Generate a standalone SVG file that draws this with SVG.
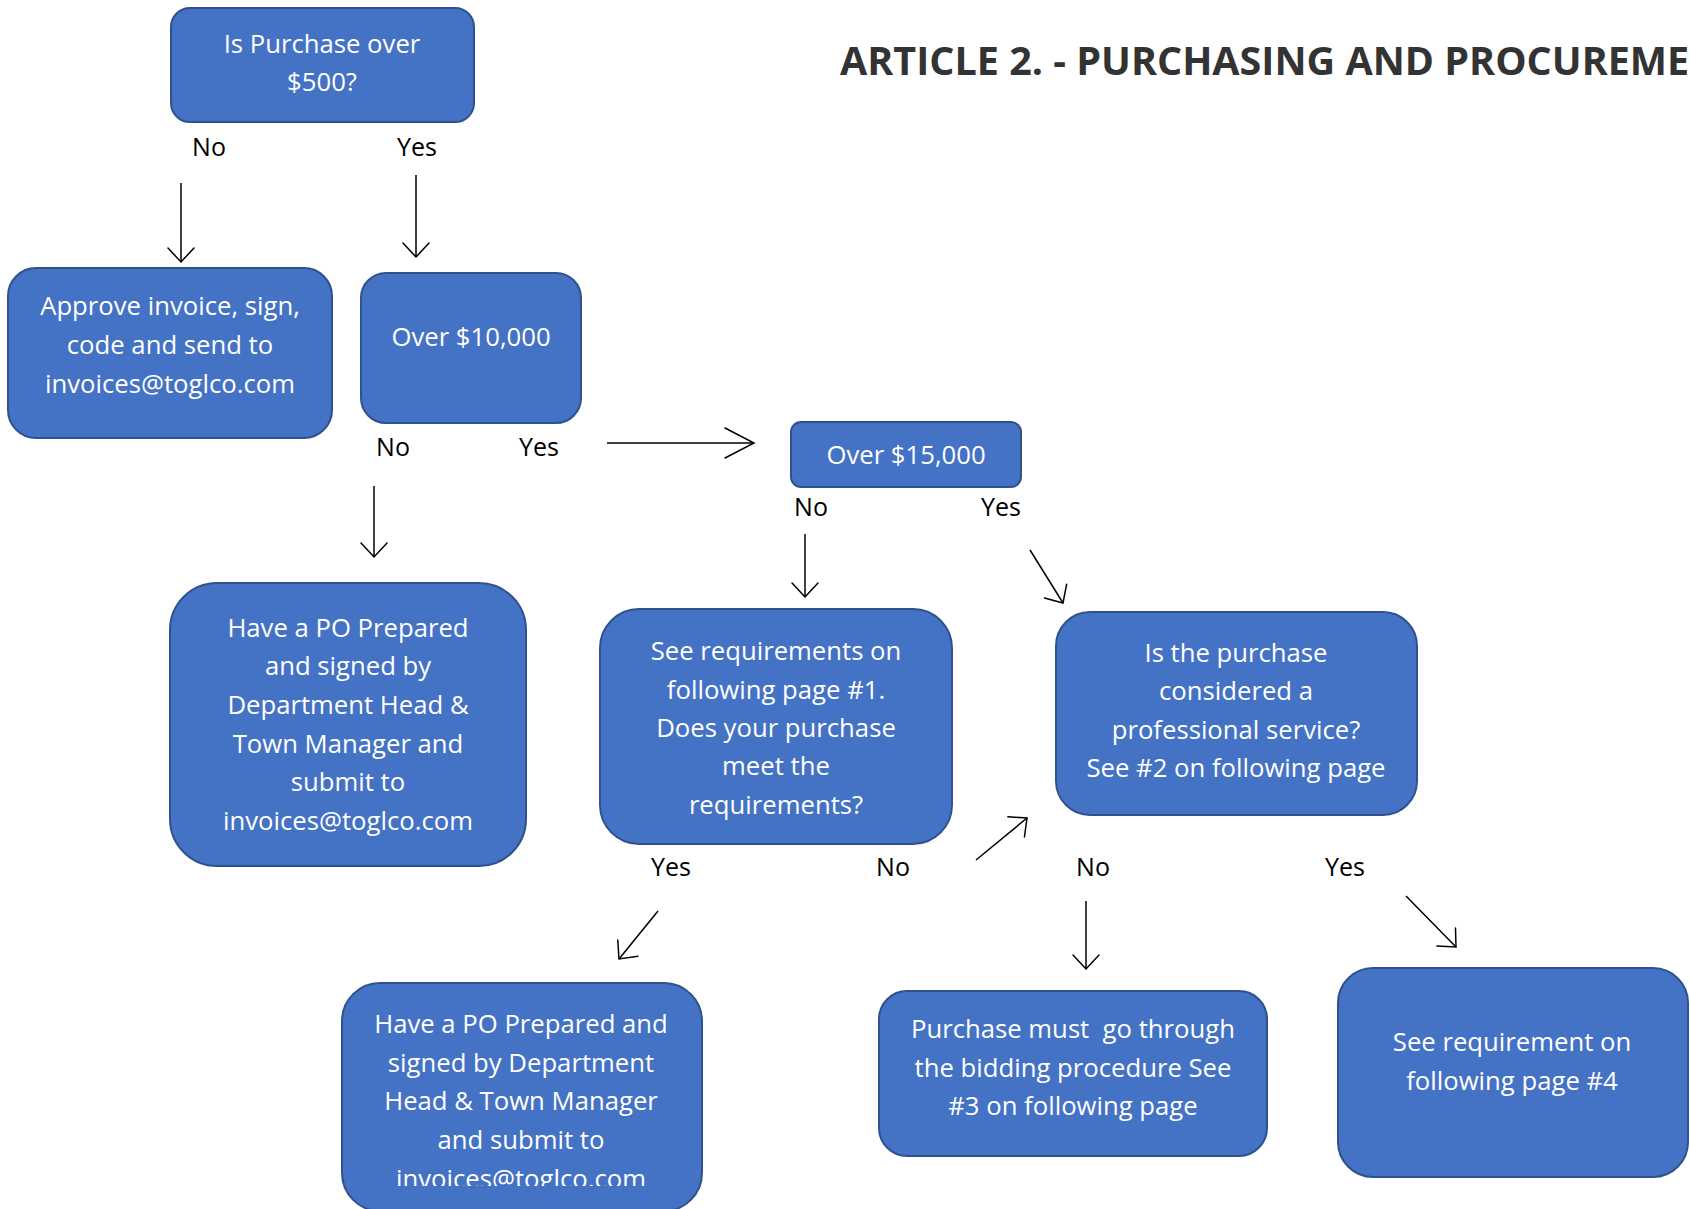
<svg xmlns="http://www.w3.org/2000/svg" width="1690" height="1209" viewBox="0 0 1690 1209">
<style>
  .box { fill: #4472C4; stroke: #2F528F; stroke-width: 2; }
  .nt { font-family: "Open Sans", "Noto Sans", sans-serif; font-size: 25.7px; fill: #FFFFFF; text-anchor: middle; }
  .lbl { font-family: "Open Sans", "Noto Sans", sans-serif; font-size: 25px; fill: #000000; text-anchor: middle; }
  .title { font-family: "Open Sans", "Noto Sans", sans-serif; font-size: 39.5px; font-weight: bold; fill: #333333; }
  .conn { stroke: #000000; stroke-width: 1.5; fill: none; }
  .head { stroke: #000000; stroke-width: 1.5; fill: none; stroke-linejoin: miter; stroke-linecap: round; }
</style>
<defs>
  <marker id="arr" markerUnits="userSpaceOnUse" viewBox="-16 -16 18 32" markerWidth="18" markerHeight="32" refX="0" refY="0" orient="auto" overflow="visible">
    <path class="head" d="M-14,-13 L0,0 L-14,13"/>
  </marker>
  <marker id="arrL" markerUnits="userSpaceOnUse" viewBox="-31 -17 33 34" markerWidth="33" markerHeight="34" refX="0" refY="0" orient="auto" overflow="visible">
    <path class="head" d="M-29,-15 L0,0 L-29,15"/>
  </marker>
  <clipPath id="clipH">
    <rect x="342" y="983" width="360" height="203"/>
  </clipPath>
</defs>

<rect width="1690" height="1209" fill="#FFFFFF"/>

<text class="title" x="840" y="75">ARTICLE 2. - PURCHASING AND PROCUREMENT</text>

<g id="node-purchase-over-500">
  <rect class="box" x="171" y="8" width="303" height="114" rx="19"/>
  <text class="nt" x="322" y="53">Is Purchase over</text>
  <text class="nt" x="322" y="91">$500?</text>
</g>

<g id="node-approve-invoice">
  <rect class="box" x="8" y="268" width="324" height="170" rx="28"/>
  <text class="nt" x="170" y="315">Approve invoice, sign,</text>
  <text class="nt" x="170" y="354">code and send to</text>
  <text class="nt" x="170" y="393">invoices@toglco.com</text>
</g>

<g id="node-over-10000">
  <rect class="box" x="361" y="273" width="220" height="150" rx="25"/>
  <text class="nt" x="471" y="346">Over $10,000</text>
</g>

<g id="node-over-15000">
  <rect class="box" x="791" y="422" width="230" height="65" rx="10"/>
  <text class="nt" x="906" y="464">Over $15,000</text>
</g>

<g id="node-po-under-10000">
  <rect class="box" x="170" y="583" width="356" height="283" rx="47"/>
  <text class="nt" x="348" y="637">Have a PO Prepared</text>
  <text class="nt" x="348" y="675">and signed by</text>
  <text class="nt" x="348" y="714">Department Head &amp;</text>
  <text class="nt" x="348" y="753">Town Manager and</text>
  <text class="nt" x="348" y="791">submit to</text>
  <text class="nt" x="348" y="830">invoices@toglco.com</text>
</g>

<g id="node-see-requirements-1">
  <rect class="box" x="600" y="609" width="352" height="235" rx="39"/>
  <text class="nt" x="776" y="660">See requirements on</text>
  <text class="nt" x="776" y="699">following page #1.</text>
  <text class="nt" x="776" y="737">Does your purchase</text>
  <text class="nt" x="776" y="775">meet the</text>
  <text class="nt" x="776" y="814">requirements?</text>
</g>

<g id="node-professional-service">
  <rect class="box" x="1056" y="612" width="361" height="203" rx="34"/>
  <text class="nt" x="1236" y="662">Is the purchase</text>
  <text class="nt" x="1236" y="700">considered a</text>
  <text class="nt" x="1236" y="739">professional service?</text>
  <text class="nt" x="1236" y="777">See #2 on following page</text>
</g>

<g id="node-po-meets-requirements">
  <rect class="box" x="342" y="983" width="360" height="228" rx="38"/>
  <g clip-path="url(#clipH)">
    <text class="nt" x="521" y="1033">Have a PO Prepared and</text>
    <text class="nt" x="521" y="1072">signed by Department</text>
    <text class="nt" x="521" y="1110">Head &amp; Town Manager</text>
    <text class="nt" x="521" y="1149">and submit to</text>
    <text class="nt" x="521" y="1188">invoices@toglco.com</text>
  </g>
</g>

<g id="node-bidding-procedure">
  <rect class="box" x="879" y="991" width="388" height="165" rx="28"/>
  <text class="nt" x="1073" y="1038" xml:space="preserve">Purchase must  go through</text>
  <text class="nt" x="1073" y="1077">the bidding procedure See</text>
  <text class="nt" x="1073" y="1115">#3 on following page</text>
</g>

<g id="node-see-requirement-4">
  <rect class="box" x="1338" y="968" width="350" height="209" rx="35"/>
  <text class="nt" x="1512" y="1051">See requirement on</text>
  <text class="nt" x="1512" y="1090">following page #4</text>
</g>

<g id="labels">
  <text class="lbl" x="209" y="156">No</text>
  <text class="lbl" x="417" y="156">Yes</text>
  <text class="lbl" x="393" y="456">No</text>
  <text class="lbl" x="539" y="456">Yes</text>
  <text class="lbl" x="811" y="516">No</text>
  <text class="lbl" x="1001" y="516">Yes</text>
  <text class="lbl" x="671" y="876">Yes</text>
  <text class="lbl" x="893" y="876">No</text>
  <text class="lbl" x="1093" y="876">No</text>
  <text class="lbl" x="1345" y="876">Yes</text>
</g>

<g id="connectors">
  <line class="conn" x1="181" y1="183" x2="181" y2="262" marker-end="url(#arr)"/>
  <line class="conn" x1="416" y1="175" x2="416" y2="257" marker-end="url(#arr)"/>
  <line class="conn" x1="607" y1="443" x2="754" y2="443" marker-end="url(#arrL)"/>
  <line class="conn" x1="374" y1="486" x2="374" y2="557" marker-end="url(#arr)"/>
  <line class="conn" x1="805" y1="534" x2="805" y2="597" marker-end="url(#arr)"/>
  <line class="conn" x1="1030" y1="550" x2="1063" y2="603" marker-end="url(#arr)"/>
  <line class="conn" x1="658" y1="911" x2="619" y2="959" marker-end="url(#arr)"/>
  <line class="conn" x1="976" y1="860" x2="1027" y2="818" marker-end="url(#arr)"/>
  <line class="conn" x1="1086" y1="901" x2="1086" y2="969" marker-end="url(#arr)"/>
  <line class="conn" x1="1406" y1="896" x2="1456" y2="947" marker-end="url(#arr)"/>
</g>
</svg>
